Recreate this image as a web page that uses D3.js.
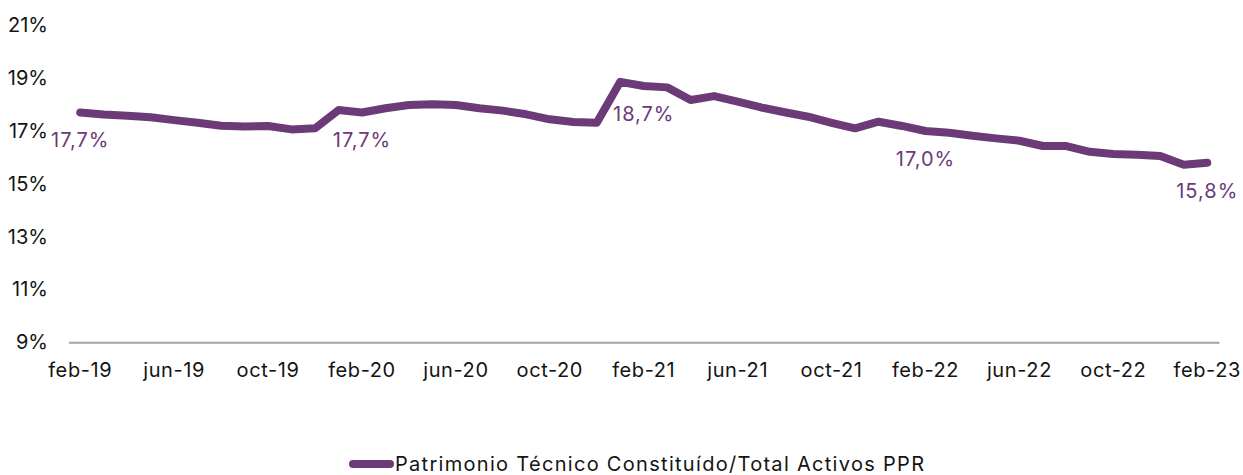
<!DOCTYPE html>
<html>
<head>
<meta charset="utf-8">
<script src="https://cdn.jsdelivr.net/npm/d3@7"></script>
<style>
  html, body { margin: 0; padding: 0; background: #fff; }
  svg { display: block; }
  svg text { font-family: Inter, "Noto Sans", sans-serif; }
</style>
</head>
<body>
<svg id="chart" width="1243" height="475"></svg>
<script>
// Monthly ratio, feb-19 to feb-23
const months = [
  "feb-19","mar-19","abr-19","may-19","jun-19","jul-19","ago-19","sep-19","oct-19","nov-19","dic-19","ene-20",
  "feb-20","mar-20","abr-20","may-20","jun-20","jul-20","ago-20","sep-20","oct-20","nov-20","dic-20","ene-21",
  "feb-21","mar-21","abr-21","may-21","jun-21","jul-21","ago-21","sep-21","oct-21","nov-21","dic-21","ene-22",
  "feb-22","mar-22","abr-22","may-22","jun-22","jul-22","ago-22","sep-22","oct-22","nov-22","dic-22","ene-23",
  "feb-23"
];

const ratio = [
  17.7, 17.62, 17.58, 17.52, 17.41, 17.31, 17.2, 17.17, 17.19, 17.06, 17.1, 17.79,
  17.7, 17.86, 17.98, 18.01, 17.98, 17.86, 17.77, 17.63, 17.44, 17.34, 17.31, 18.86,
  18.7, 18.65, 18.17, 18.32, 18.11, 17.89, 17.71, 17.54, 17.31, 17.1, 17.35, 17.19,
  17.0, 16.93, 16.82, 16.72, 16.63, 16.43, 16.43, 16.21, 16.13, 16.1, 16.05, 15.72,
  15.8
];

const yTicks = [9, 11, 13, 15, 17, 19, 21];
const xTickLabels = ["feb-19","jun-19","oct-19","feb-20","jun-20","oct-20","feb-21","jun-21","oct-21","feb-22","jun-22","oct-22","feb-23"];
const labelledMonths = ["feb-19","feb-20","feb-21","feb-22","feb-23"];
const seriesName = "Patrimonio Técnico Constituído/Total Activos PPR";

const purple = "#6c3a77";
const ink = "#141414";
const svg = d3.select("#chart");

const x = d3.scaleBand().domain(months).range([68.5, 1219]).padding(0);
const cx = m => x(m) + x.bandwidth() / 2;
const y = d3.scaleLinear().domain([9, 21]).range([342.3, 25.3]);

const fmtPct = v => d3.format(".1f")(v).replace(".", ",") + "%";

// x axis: baseline plus month labels
const xAxis = svg.append("g")
  .attr("transform", `translate(0,${y(9)})`)
  .call(d3.axisBottom(x).tickValues(xTickLabels).tickSize(0).tickSizeOuter(0).tickPadding(21));
xAxis.attr("font-family", null).attr("font-size", null);
xAxis.select(".domain").attr("stroke", "#a3a3a3").attr("stroke-width", 2);
xAxis.selectAll("text")
  .attr("font-size", 20)
  .attr("letter-spacing", "0.6px")
  .attr("fill", ink);

// y axis: percentage labels only
const yAxis = svg.append("g")
  .attr("transform", "translate(48,0)")
  .call(d3.axisLeft(y).tickValues(yTicks).tickSize(0).tickPadding(0).tickFormat(d => d + "%"));
yAxis.attr("font-family", null).attr("font-size", null);
yAxis.select(".domain").remove();
yAxis.selectAll("text")
  .attr("font-size", 20)
  .attr("fill", ink);

// series line
const line = d3.line()
  .x((d, i) => cx(months[i]))
  .y(d => y(d));

svg.append("path")
  .datum(ratio)
  .attr("d", line)
  .attr("fill", "none")
  .attr("stroke", purple)
  .attr("stroke-width", 8)
  .attr("stroke-linejoin", "round")
  .attr("stroke-linecap", "round");

// value labels under selected months
svg.append("g")
  .selectAll("text")
  .data(labelledMonths)
  .join("text")
  .attr("x", m => cx(m))
  .attr("y", m => y(ratio[months.indexOf(m)]) + 28)
  .attr("dy", "0.35em")
  .attr("text-anchor", "middle")
  .attr("font-size", 20)
  .attr("letter-spacing", "1px")
  .attr("fill", purple)
  .text(m => fmtPct(ratio[months.indexOf(m)]));

// legend
const legend = svg.append("g").attr("transform", "translate(0,464)");
legend.append("line")
  .attr("x1", 353).attr("x2", 390)
  .attr("y1", 0).attr("y2", 0)
  .attr("stroke", purple)
  .attr("stroke-width", 8)
  .attr("stroke-linecap", "round");
legend.append("text")
  .attr("x", 395)
  .attr("y", 0)
  .attr("dy", "0.35em")
  .attr("font-size", 20)
  .attr("letter-spacing", "1.3px")
  .attr("fill", ink)
  .text(seriesName);
</script>
</body>
</html>
